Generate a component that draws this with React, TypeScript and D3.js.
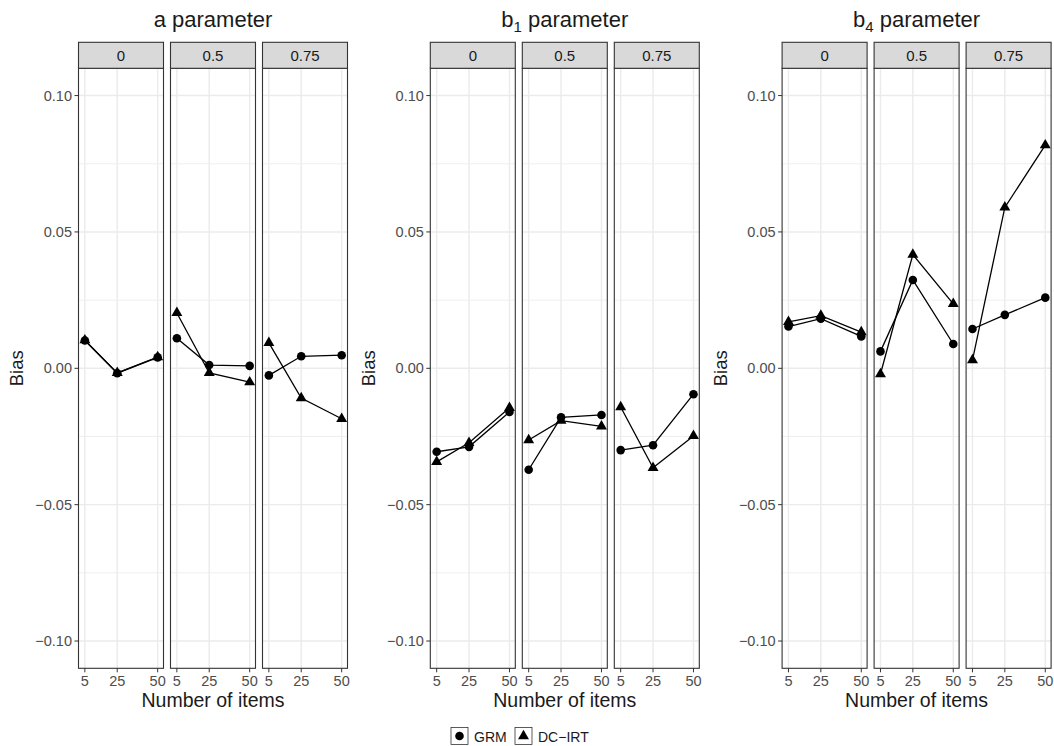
import React from "react";
import * as d3 from "d3";

const nItems = [5, 25, 50];
const facetLabels = ["0", "0.5", "0.75"];
const paramMain = ["a", "b", "b"];
const paramSub = ["", "1", "4"];

// values per facet (rows) and number of items (columns)
const aGRM = [[0.0102, -0.0018, 0.004], [0.011, 0.0012, 0.0009], [-0.0026, 0.0044, 0.0048]];
const aDC = [[0.0103, -0.0017, 0.0041], [0.0203, -0.0017, -0.0051], [0.0093, -0.0109, -0.0185]];
const b1GRM = [[-0.0306, -0.0288, -0.016], [-0.0372, -0.018, -0.0171], [-0.03, -0.0282, -0.0095]];
const b1DC = [[-0.0343, -0.0273, -0.0145], [-0.0263, -0.0192, -0.0213], [-0.0142, -0.0365, -0.0248]];
const b4GRM = [[0.0153, 0.0182, 0.0117], [0.0062, 0.0324, 0.0089], [0.0144, 0.0196, 0.0259]];
const b4DC = [[0.017, 0.0193, 0.0133], [-0.0021, 0.0417, 0.0236], [0.003, 0.059, 0.0818]];

const yTicks = [-0.1, -0.05, 0, 0.05, 0.1];
const yMinor = [-0.075, -0.025, 0.025, 0.075];
const seriesNames = ["GRM", "DC\u2212IRT"];

const grmData = [aGRM, b1GRM, b4GRM];
const dcData = [aDC, b1DC, b4DC];

const FONT = "'Liberation Sans', Arial, Helvetica, sans-serif";
const W = 1054;
const H = 746;
const subW = 351.8;
const left0 = 78.5;
const panelW = 85;
const gap = 7;
const panelTop = 68.3;
const panelBottom = 668.3;
const stripTop = 42.3;

const fmt = (v: number) => {
  const s = Math.abs(v).toFixed(2);
  return v < 0 ? "\u2212" + s : s;
};

const circlePath = d3.symbol().type(d3.symbolCircle).size(Math.PI * 4.3 * 4.3)();
const triPath = d3.symbol().type(d3.symbolTriangle).size(52)();

export default function App() {
  const yScale = d3.scaleLinear().domain([-0.11, 0.11]).range([panelBottom, panelTop]);
  const line = (xs: d3.ScaleLinear<number, number>, vals: number[]) =>
    d3.line<number>().x((_, i) => xs(nItems[i])).y((d) => yScale(d))(vals) || "";

  return (
    <svg
      width={W}
      height={H}
      style={{ position: "absolute", left: 0, top: 0, display: "block", background: "#fff" }}
      fontFamily={FONT}
    >
      <rect x={0} y={0} width={W} height={H} fill="#fff" />
      {[0, 1, 2].map((p) => {
        const ox = p * subW;
        const cx = ox + left0 + (3 * panelW + 2 * gap) / 2;
        return (
          <g key={p}>
            <text x={cx} y={27} textAnchor="middle" fontSize={22} fill="#1a1a1a">
              {paramMain[p]}
              {paramSub[p] ? (
                <tspan fontSize={15} dy={5}>{paramSub[p]}</tspan>
              ) : null}
              <tspan dy={paramSub[p] ? -5 : 0}>{" parameter"}</tspan>
            </text>
            {/* y axis */}
            {yTicks.map((t) => (
              <g key={t}>
                <line x1={ox + left0 - 4} x2={ox + left0} y1={yScale(t)} y2={yScale(t)} stroke="#333" strokeWidth={1} />
                <text x={ox + left0 - 6.5} y={yScale(t) + 5} textAnchor="end" fontSize={14.5} fill="#4d4d4d">
                  {fmt(t)}
                </text>
              </g>
            ))}
            <text
              transform={`translate(${ox + 23},${(panelTop + panelBottom) / 2}) rotate(-90)`}
              textAnchor="middle"
              fontSize={18.5}
              fill="#1a1a1a"
            >
              Bias
            </text>
            {facetLabels.map((f, j) => {
              const px = ox + left0 + j * (panelW + gap);
              const xs = d3.scaleLinear().domain([1.06, 53.6]).range([px, px + panelW]);
              const grm = grmData[p][j];
              const dc = dcData[p][j];
              return (
                <g key={f}>
                  <rect x={px} y={panelTop} width={panelW} height={panelBottom - panelTop} fill="#fff" />
                  {yMinor.map((t) => (
                    <line key={t} x1={px} x2={px + panelW} y1={yScale(t)} y2={yScale(t)} stroke="#ebebeb" strokeWidth={0.8} />
                  ))}
                  {yTicks.map((t) => (
                    <line key={t} x1={px} x2={px + panelW} y1={yScale(t)} y2={yScale(t)} stroke="#ebebeb" strokeWidth={1.4} />
                  ))}
                  {nItems.map((n) => (
                    <line key={n} x1={xs(n)} x2={xs(n)} y1={panelTop} y2={panelBottom} stroke="#ebebeb" strokeWidth={1.4} />
                  ))}
                  <path d={line(xs, grm)} fill="none" stroke="#000" strokeWidth={1.3} />
                  <path d={line(xs, dc)} fill="none" stroke="#000" strokeWidth={1.3} />
                  {grm.map((v, i) => (
                    <path key={"g" + i} d={circlePath || ""} transform={`translate(${xs(nItems[i])},${yScale(v)})`} fill="#000" />
                  ))}
                  {dc.map((v, i) => (
                    <path key={"d" + i} d={triPath || ""} transform={`translate(${xs(nItems[i])},${yScale(v)})`} fill="#000" />
                  ))}
                  <rect x={px} y={panelTop} width={panelW} height={panelBottom - panelTop} fill="none" stroke="#333" strokeWidth={1.1} />
                  <rect x={px} y={stripTop} width={panelW} height={panelTop - stripTop} fill="#d9d9d9" stroke="#333" strokeWidth={1.1} />
                  <text x={px + panelW / 2} y={stripTop + 18.5} textAnchor="middle" fontSize={15} fill="#1a1a1a">
                    {f}
                  </text>
                  {nItems.map((n) => (
                    <g key={n}>
                      <line x1={xs(n)} x2={xs(n)} y1={panelBottom} y2={panelBottom + 4} stroke="#333" strokeWidth={1} />
                      <text x={xs(n)} y={panelBottom + 18} textAnchor="middle" fontSize={14.5} fill="#4d4d4d">
                        {n}
                      </text>
                    </g>
                  ))}
                </g>
              );
            })}
            <text x={cx} y={707} textAnchor="middle" fontSize={19.5} fill="#1a1a1a">
              Number of items
            </text>
          </g>
        );
      })}
      {/* legend */}
      {(() => {
        const ly = 727.5;
        const k = 17;
        const x0 = 451;
        const x1 = 515;
        return (
          <g>
            <rect x={x0} y={ly} width={k} height={k} fill="#fff" stroke="#333" strokeWidth={0.8} />
            <path d={circlePath || ""} transform={`translate(${x0 + k / 2},${ly + k / 2})`} fill="#000" />
            <text x={x0 + k + 6} y={ly + 14} fontSize={14} fill="#1a1a1a">{seriesNames[0]}</text>
            <rect x={x1} y={ly} width={k} height={k} fill="#fff" stroke="#333" strokeWidth={0.8} />
            <path d={triPath || ""} transform={`translate(${x1 + k / 2},${ly + k / 2})`} fill="#000" />
            <text x={x1 + k + 6} y={ly + 14} fontSize={14} fill="#1a1a1a">{seriesNames[1]}</text>
          </g>
        );
      })()}
    </svg>
  );
}
